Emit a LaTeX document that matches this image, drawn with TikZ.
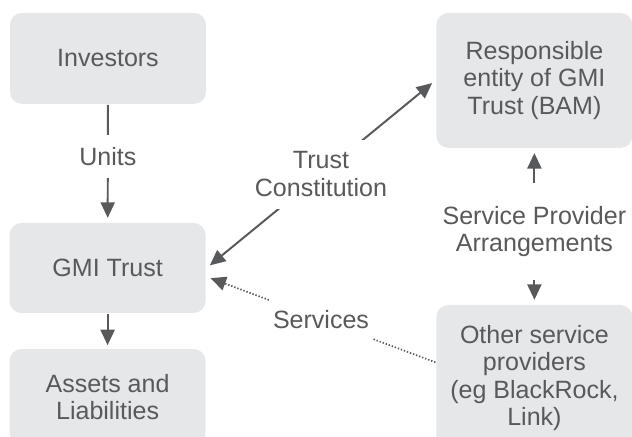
\documentclass[tikz,border=0pt]{standalone}
\usepackage{fontspec}
\setmainfont{Liberation Sans}
\usetikzlibrary{arrows.meta}

\definecolor{boxgray}{RGB}{230,231,232}
\definecolor{inkgray}{RGB}{88,89,91}

\tikzset{
  entity/.style={fill=boxgray, rounded corners=0.3cm, minimum width=4.9cm,
    align=center, text=inkgray, font=\fontsize{17.8}{19.6}\selectfont},
  lbl/.style={fill=white, text=inkgray, align=center, inner xsep=0.1cm,
    inner ysep=0.3cm, font=\fontsize{17.8}{19.6}\selectfont},
}

\begin{document}
\begin{tikzpicture}[>={Triangle[length=11pt,width=10pt]},line width=1.4pt,inkgray]
\useasboundingbox (0,0) rectangle (15.8,-10.925);

\node[entity,minimum height=2.275cm] (inv) at (2.7,-1.46) {Investors};
\node[entity,minimum height=2.25cm] (gmi) at (2.69,-6.7) {GMI Trust};
\node[entity,minimum height=2.4cm] (assets) at (2.69,-9.925) {Assets and\\Liabilities};
\node[entity,minimum height=3.375cm] (bam) at (13.36,-2.01) {Responsible\\entity of GMI\\Trust (BAM)};
\node[entity,minimum height=3.65cm] (other) at (13.36,-9.45) {Other service\\providers\\(eg BlackRock,\\Link)};

\draw[->,shorten >=3pt] (inv) -- node[lbl,pos=0.44] {Units} (gmi);
\draw[->,shorten >=2pt] (gmi) -- (assets);
\draw[<->,shorten >=3pt,shorten <=3pt] (gmi.east) -- node[lbl] {Trust\\Constitution} (bam.west);
\draw[->,line width=1.2pt,dash pattern=on 1pt off 1.3pt,shorten >=3pt] (other.171) -- node[lbl] {Services} (gmi.-5);

% service provider arrows run out from the label
\node[lbl,inner ysep=0.55cm] (spa) at (13.36,-5.79) {Service Provider\\Arrangements};
\draw[->,shorten >=3pt] (spa) -- (bam);
\draw[->,shorten >=3pt] (spa) -- (other);
\end{tikzpicture}
\end{document}
